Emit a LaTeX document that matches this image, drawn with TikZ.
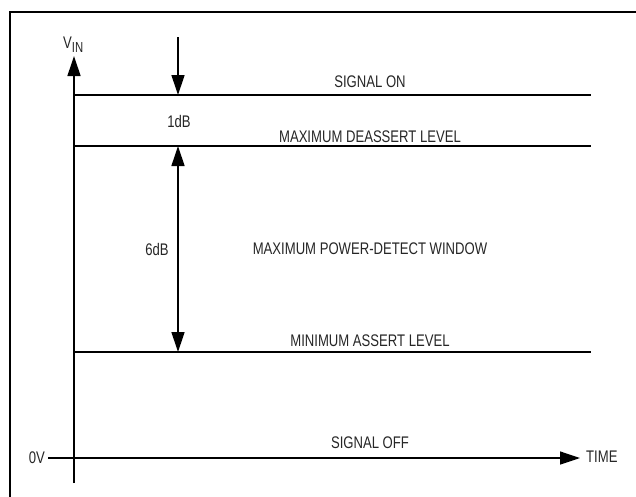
\documentclass[tikz,border=0pt]{standalone}
\usepackage{fontspec}
\setmainfont{Liberation Sans}[FakeStretch=0.78]
\usetikzlibrary{arrows.meta}

\begin{document}
\begin{tikzpicture}[x=1pt,y=-1pt,
  level/.style={line width=1.3pt},
  tip/.style={-{Triangle[length=20pt,width=13pt]}},
  lbl/.style={font=\fontsize{16.8}{20}\selectfont,inner sep=0pt,text=black!85}]

\useasboundingbox (0,0) rectangle (636,496);

% Outer frame (runs off the right and bottom edges)
\draw[line width=2.8pt] (10,510) -- (10,12) -- (650,12);

% Axis end points
\coordinate (Bot) at (74,483);
\coordinate (Top) at (74,56);
\coordinate (Zl) at (48,458);
\coordinate (Zr) at (580,458);

% Level lines
\coordinate (OnL) at (74,95);
\coordinate (OnR) at (591,95);
\coordinate (DeL) at (74,146);
\coordinate (DeR) at (591,146);
\coordinate (AsL) at (74,352);
\coordinate (AsR) at (591,352);

% Dimension arrows
\coordinate (Ds) at (178,37);
\coordinate (Dt) at (178,95);
\coordinate (Wt) at (178,146);
\coordinate (Wb) at (178,352);

% Draw the axes
\draw[level,tip] (Bot) -- (Top);
\draw[level,tip] (Zl) -- (Zr);

% Draw the levels
\draw[level] (OnL) -- (OnR);
\draw[level] (DeL) -- (DeR);
\draw[level] (AsL) -- (AsR);

% Draw the 1dB and 6dB arrows
\draw[level,tip] (Ds) -- (Dt);
\draw[level,{Triangle[length=20pt,width=13pt]}-{Triangle[length=20pt,width=13pt]}] (Wt) -- (Wb);

% Labels
\node[lbl,anchor=base west] (vin) at (63,48) {V\raisebox{-4pt}{\fontsize{14.5}{16}\selectfont IN}};
\node[lbl,anchor=east] (zero) at (45,457.5) {0V};
\node[lbl,anchor=west] (time) at (586,456.5) {TIME};
\node[lbl] (one) at (179,121) {1dB};
\node[lbl] (six) at (157,249) {6dB};
\node[lbl] (on) at (370,81.5) {SIGNAL ON};
\node[lbl] (deassert) at (370,137) {MAXIMUM DEASSERT LEVEL};
\node[lbl] (window) at (370,249) {MAXIMUM POWER-DETECT WINDOW};
\node[lbl] (assert) at (370,341) {MINIMUM ASSERT LEVEL};
\node[lbl] (off) at (370,443) {SIGNAL OFF};

\end{tikzpicture}
\end{document}
